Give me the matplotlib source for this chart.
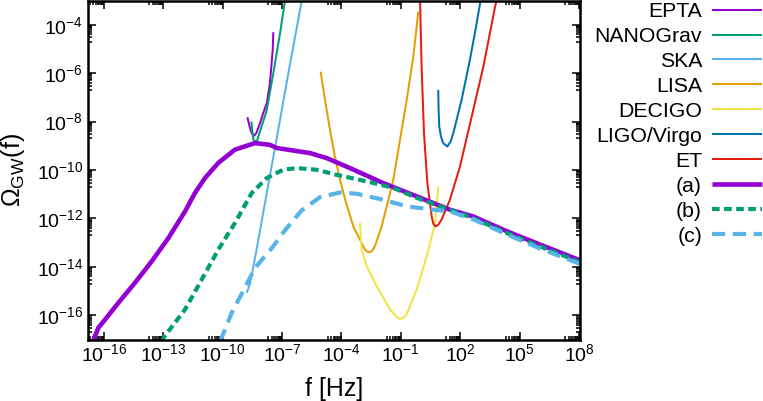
import numpy as np
import matplotlib
matplotlib.use('Agg')
import matplotlib.pyplot as plt
from matplotlib.ticker import FixedLocator, NullFormatter

plt.rcParams['font.family'] = ['Liberation Sans', 'DejaVu Sans']
plt.rcParams['mathtext.fontset'] = 'custom'
plt.rcParams['mathtext.rm'] = 'Liberation Sans'
plt.rcParams['mathtext.it'] = 'Liberation Sans:italic'
plt.rcParams['lines.scale_dashes'] = False

# ---- data: log10(f [Hz]) and log10(Omega_GW) ----
epta_logf = [-8.75, -8.64, -8.53, -8.42, -8.30, -8.11, -7.95, -7.77, -7.61, -7.47, -7.44]
epta_logO = [-7.82, -8.20, -8.48, -8.59, -8.48, -8.06, -7.65, -7.24, -6.41, -5.04, -4.31]

nano_logf = [-8.55, -8.45, -8.29, -8.03, -7.77, -7.44, -7.10, -6.83]
nano_logO = [-8.00, -8.75, -8.86, -8.20, -7.52, -6.00, -4.35, -2.90]

ska_logf = [-8.78, -8.62, -8.36, -7.77, -7.36, -6.68, -5.98]
ska_logO = [-15.07, -14.70, -13.62, -10.95, -9.10, -6.00, -2.90]

lisa_logf = [-5.05, -4.83, -4.58, -4.33, -4.07, -3.82, -3.40, -2.98, -2.81, -2.64, -2.47, -2.31, -1.97,
             -1.63, -1.38, -1.04, -0.70, -0.37, -0.20, -0.12]
lisa_logO = [-5.94, -7.10, -8.34, -9.44, -10.40, -11.20, -12.33, -13.01, -13.29, -13.40, -13.36, -13.15, -12.33,
             -11.23, -10.40, -8.75, -7.10, -5.32, -4.08, -3.46]

decigo_logf = [-3.06, -2.98, -2.72, -2.22, -1.55, -1.21, -1.04, -0.88, -0.71, -0.20, 0.31, 0.73, 0.89]
decigo_logO = [-12.19, -13.29, -13.98, -14.80, -15.76, -16.06, -16.15, -16.11, -15.97, -14.94, -13.56, -12.19, -10.68]

ligo_logf = [0.89, 0.91, 0.94, 1.03, 1.14, 1.35, 1.52, 1.65, 2.07, 2.49, 2.83, 3.05]
ligo_logO = [-6.69, -7.52, -8.20, -8.62, -8.89, -9.03, -8.82, -8.48, -7.10, -5.45, -3.94, -2.90]

et_logf = [-0.03, 0.05, 0.17, 0.34, 0.56, 0.64, 0.76, 0.89, 1.06, 1.48, 1.99, 2.58, 3.17, 3.76, 3.86]
et_logO = [-2.90, -5.73, -8.48, -10.54, -11.92, -12.22, -12.33, -12.26, -12.05, -11.23, -9.85, -7.79, -5.73, -3.26, -2.90]

a_logf = [-16.53, -16.48, -16.28, -15.94, -15.27, -14.43, -13.58, -12.74, -11.90, -11.40, -10.89, -10.22,
          -9.38, -8.37, -7.61, -7.27, -6.09, -5.59, -4.74, -3.57, -1.89, -0.20, 1.48, 2.66, 4.35, 6.03, 8.05]
a_logO = [-17.07, -16.93, -16.52, -16.18, -15.49, -14.66, -13.77, -12.81, -11.71, -10.95, -10.33, -9.71,
          -9.16, -8.89, -8.96, -9.09, -9.24, -9.30, -9.51, -9.92, -10.54, -11.09, -11.64, -11.92, -12.53, -13.08, -13.73]

b_logf = [-13.05, -12.99, -11.90, -11.06, -10.22, -9.38, -8.53, -8.20, -7.77, -6.94, -6.26, -5.25, -4.24,
          -2.72, -1.38, -0.20, 0.98, 2.66, 4.35, 6.03, 8.05]
b_logO = [-17.10, -16.93, -15.76, -14.53, -13.29, -12.19, -10.95, -10.68, -10.33, -9.99, -9.92, -9.99, -10.20,
          -10.47, -10.74, -11.15, -11.50, -11.99, -12.60, -13.16, -13.80]

c_logf = [-10.10, -10.05, -9.54, -8.87, -8.37, -7.47, -6.85, -6.01, -5.08, -4.07, -3.23, -1.89,
          -0.70, 0.64, 1.48, 2.66, 4.35, 6.03, 8.05]
c_logO = [-17.10, -16.93, -15.90, -14.85, -14.05, -13.18, -12.49, -11.67, -11.12, -10.93, -10.98, -11.23,
          -11.50, -11.64, -11.71, -12.04, -12.66, -13.24, -13.88]

detectors = [
    ("EPTA", epta_logf, epta_logO, "#9400D3"),
    ("NANOGrav", nano_logf, nano_logO, "#009E73"),
    ("SKA", ska_logf, ska_logO, "#56B4E9"),
    ("LISA", lisa_logf, lisa_logO, "#E69F00"),
    ("DECIGO", decigo_logf, decigo_logO, "#F0E442"),
    ("LIGO/Virgo", ligo_logf, ligo_logO, "#0072B2"),
    ("ET", et_logf, et_logO, "#E51E10"),
]

W, H = 763, 401
fig = plt.figure(figsize=(W / 100, H / 100), dpi=100)
ax = fig.add_axes([88 / W, 1 - 339.5 / H, (580 - 88) / W, 339 / H])

for name, lf, lo, col in detectors:
    ax.plot(10 ** np.array(lf), 10 ** np.array(lo), color=col, lw=1.45, label=name,
            solid_capstyle='butt', solid_joinstyle='round')

ax.plot(10 ** np.array(a_logf), 10 ** np.array(a_logO), color="#9400D3", lw=3.3, label="(a)",
        solid_capstyle='butt', solid_joinstyle='round')
ax.plot(10 ** np.array(b_logf), 10 ** np.array(b_logO), color="#009E73", lw=3.0, label="(b)",
        dashes=(5.5, 3.2), dash_capstyle='butt')
ax.plot(10 ** np.array(c_logf), 10 ** np.array(c_logO), color="#56B4E9", lw=3.0, label="(c)",
        dashes=(9.5, 5.5), dash_capstyle='butt')

ax.set_xscale('log')
ax.set_yscale('log')
ax.set_xlim(10 ** -16.8, 10 ** 8.05)
ax.set_ylim(1e-17, 1e-3)

xmaj_exp = list(range(-16, 9, 3))
ymaj_exp = list(range(-16, -3, 2))
ax.xaxis.set_major_locator(FixedLocator([10.0 ** e for e in xmaj_exp]))
ax.yaxis.set_major_locator(FixedLocator([10.0 ** e for e in ymaj_exp]))
ax.xaxis.set_minor_locator(FixedLocator([k * 10.0 ** (e - 1) for e in xmaj_exp for k in range(2, 10)]))
ax.yaxis.set_minor_locator(FixedLocator([k * 10.0 ** (e - 1) for e in ymaj_exp for k in range(2, 10)]))
ax.xaxis.set_minor_formatter(NullFormatter())
ax.yaxis.set_minor_formatter(NullFormatter())
ax.set_xticklabels([r'$\mathregular{10^{%d}}$' % e for e in xmaj_exp])
ax.set_yticklabels([r'$\mathregular{10^{%d}}$' % e for e in ymaj_exp])

ax.tick_params(which='both', direction='in', top=True, right=True, width=1.1, labelsize=14)
ax.tick_params(which='major', length=5.5)
ax.tick_params(which='minor', length=3)
ax.tick_params(axis='x', pad=2.5)
ax.tick_params(axis='y', pad=3.5)
for sp in ax.spines.values():
    sp.set_linewidth(1.8)

ax.set_xlabel('f [Hz]', fontsize=18, labelpad=8.5)
ax.set_ylabel(r'Ω$_{\mathregular{GW}}$(f)', fontsize=18)
ax.yaxis.set_label_coords(-0.124, 0.5)

leg = ax.legend(loc='upper right', bbox_to_anchor=(762 / W, 1 - 2 / H), bbox_transform=fig.transFigure,
                frameon=False, markerfirst=False, fontsize=15.3, handlelength=2.35,
                handletextpad=0.47, labelspacing=0.28, borderpad=0, borderaxespad=0)

fig.savefig('out.png', dpi=100)
